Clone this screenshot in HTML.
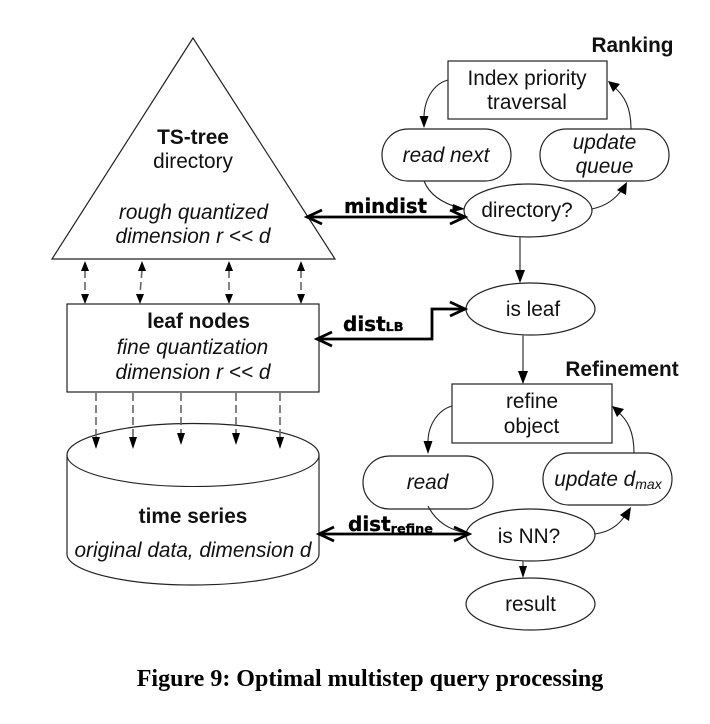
<!DOCTYPE html>
<html>
<head>
<meta charset="utf-8">
<style>
html,body{margin:0;padding:0;background:#fff;width:710px;height:724px;overflow:hidden}
svg{display:block}
text{font-family:"Liberation Sans",sans-serif;font-size:20.8px;fill:#111;text-anchor:middle}
.b{font-weight:bold}
.i{font-style:italic}
.s{fill:#fff;stroke:#222;stroke-width:1.2}
.c{fill:none;stroke:#222;stroke-width:1.1}
.g{fill:none;stroke:#666;stroke-width:1.6}
.d{fill:none;stroke:#666;stroke-width:1.6;stroke-dasharray:8 4}
.h{fill:none;stroke:#000;stroke-width:2.8}
.o{fill:none;stroke:#000;stroke-width:2.8}
.k{fill:#000;stroke:none}
.m{font-family:"DejaVu Sans",sans-serif;font-size:20px;font-weight:bold;fill:#000;stroke:#000;stroke-width:.3;text-anchor:start}
.n{font-family:"DejaVu Sans",sans-serif;font-size:12.8px;font-weight:bold}
</style>
</head>
<body>
<svg width="710" height="724" viewBox="0 0 710 724" xmlns="http://www.w3.org/2000/svg">
<!-- triangle -->
<polygon class="s" points="193,38 52,259 335,259"/>
<text class="b" x="193" y="144">TS-tree</text>
<text x="193" y="168">directory</text>
<text class="i" x="193.5" y="219">rough quantized</text>
<text class="i" x="193" y="243">dimension r &lt;&lt; d</text>

<!-- leaf rect -->
<rect class="s" x="67" y="304" width="252" height="88"/>
<text class="b" x="198.5" y="328">leaf nodes</text>
<text class="i" x="192.5" y="354">fine quantization</text>
<text class="i" x="193" y="379">dimension r &lt;&lt; d</text>

<!-- cylinder -->
<path class="s" d="M67,455 A126,31.5 0 0 1 319,455 L319,554 A126,31 0 0 1 67,554 Z"/>
<path class="c" d="M67,455 A126,31.5 0 0 0 319,455"/>
<text class="b" x="193" y="523">time series</text>
<text class="i" x="193" y="557">original data, dimension d</text>

<!-- dashed double arrows -->
<g>
<path class="d" d="M85,270 V294"/><path class="k" d="M85,261 l-4,10 h8 z M85,304 l-4,-10 h8 z"/>
<path class="d" d="M142,270 L140,294"/><path class="k" d="M142,261 l-4,10 h8 z M140,304 l-4,-10 h8 z"/>
<path class="d" d="M229,270 V294"/><path class="k" d="M229,261 l-4,10 h8 z M229,304 l-4,-10 h8 z"/>
<path class="d" d="M301,270 V294"/><path class="k" d="M301,261 l-4,10 h8 z M301,304 l-4,-10 h8 z"/>
</g>
<!-- dashed down arrows -->
<g>
<path class="d" d="M96,393 V438"/><path class="k" d="M96,449 l-4,-12 h8 z"/>
<path class="d" d="M133,393 V438"/><path class="k" d="M133,449 l-4,-12 h8 z"/>
<path class="d" d="M181,393 V434"/><path class="k" d="M181,445 l-4,-12 h8 z"/>
<path class="d" d="M236,393 V434"/><path class="k" d="M236,445 l-4,-12 h8 z"/>
<path class="d" d="M280,393 V438"/><path class="k" d="M280,449 l-4,-12 h8 z"/>
</g>

<!-- right flow: ranking -->
<text class="b" x="632.5" y="52">Ranking</text>
<rect class="s" x="448" y="61" width="159" height="58"/>
<text x="527" y="85">Index priority</text>
<text x="527" y="109">traversal</text>

<rect class="s" x="382" y="129" width="129" height="52" rx="26" ry="26"/>
<text class="i" x="446" y="162">read next</text>
<rect class="s" x="540" y="129" width="129" height="52" rx="26" ry="26"/>
<text class="i" x="604.5" y="149">update</text>
<text class="i" x="604.5" y="173">queue</text>

<path class="c" d="M448,80 C433,84 424,100 424,118"/>
<path class="k" d="M424,128 l-4.5,-12 h9 z"/>
<path class="c" d="M631,129 C631,108 625,96 613,86"/>
<path class="k" d="M608,81 l12,3 l-7,8 z"/>

<path class="c" d="M424,181 C430,196 445,204 460,208"/>
<path class="k" d="M465,209 l-12,-5 l-1,8 z"/>
<path class="c" d="M592,209 C606,206 616,199 623,188"/>
<path class="k" d="M627,182 l-1,13 l-9,-5 z"/>

<ellipse class="s" cx="528" cy="210.5" rx="64" ry="26.5"/>
<text x="527" y="217">directory?</text>

<!-- mindist -->
<text class="m" x="344" y="213" textLength="83" lengthAdjust="spacingAndGlyphs">mindist</text>
<path class="h" d="M308,217 H464"/>
<path class="o" d="M322,210 L307,217 L322,224 M450,210 L465,217 L450,224"/>

<!-- directory to leaf -->
<path class="g" d="M520,237 V272"/>
<path class="k" d="M520,283 l-5,-13 h10 z"/>

<ellipse class="s" cx="530.5" cy="309" rx="64.5" ry="26"/>
<text x="533" y="316">is leaf</text>

<!-- distLB -->
<text class="m" x="343" y="331">dist<tspan class="n" dy="0">LB</tspan></text>
<path class="h" d="M317,339 H432 V309 H464"/>
<path class="o" d="M332,332 L317,339 L332,346 M450,302 L465,309 L450,316"/>

<!-- leaf to refine -->
<path class="g" d="M523,335 V372"/>
<path class="k" d="M523,384 l-5,-13 h10 z"/>

<!-- refinement -->
<text class="b" x="622" y="376">Refinement</text>
<rect class="s" x="452" y="384" width="160" height="59"/>
<text x="532" y="408">refine</text>
<text x="531.5" y="433">object</text>

<path class="c" d="M452,406 C438,410 428,425 428,442"/>
<path class="k" d="M428,454 l-4.5,-13 h9 z"/>
<path class="c" d="M634,453 C634,432 628,420 617,411"/>
<path class="k" d="M612,406 l12,3 l-7,8 z"/>

<rect class="s" x="363" y="456" width="130" height="53" rx="26.5" ry="26.5"/>
<text class="i" x="427.5" y="489">read</text>
<rect class="s" x="543" y="453" width="129" height="52" rx="26" ry="26"/>
<text class="i" x="608" y="486">update d<tspan font-size="14" dy="3">max</tspan></text>

<path class="c" d="M428,506 C436,522 450,530 466,533"/>
<path class="c" d="M595,534 C610,532 620,524 626,514"/>
<path class="k" d="M631,507 l-2,14 l-9,-6 z"/>

<ellipse class="s" cx="530.5" cy="535" rx="64.5" ry="26"/>
<text x="529" y="543">is NN?</text>

<!-- distrefine -->
<text class="m" x="348" y="531">dist<tspan class="n" dy="2">refine</tspan></text>
<path class="h" d="M319,534 H468"/>
<path class="o" d="M334,527 L319,534 L334,541 M454,527 L469,534 L454,541"/>

<!-- NN to result -->
<path class="g" d="M523,561 V568"/>
<path class="k" d="M523,578 l-4,-12 h8 z"/>
<ellipse class="s" cx="530.5" cy="604" rx="64.5" ry="26"/>
<text x="530.5" y="611">result</text>

<!-- caption -->
<text x="370" y="686" style="font-family:'Liberation Serif',serif;font-weight:bold;font-size:24px;fill:#000">Figure 9: Optimal multistep query processing</text>
</svg>
</body>
</html>
